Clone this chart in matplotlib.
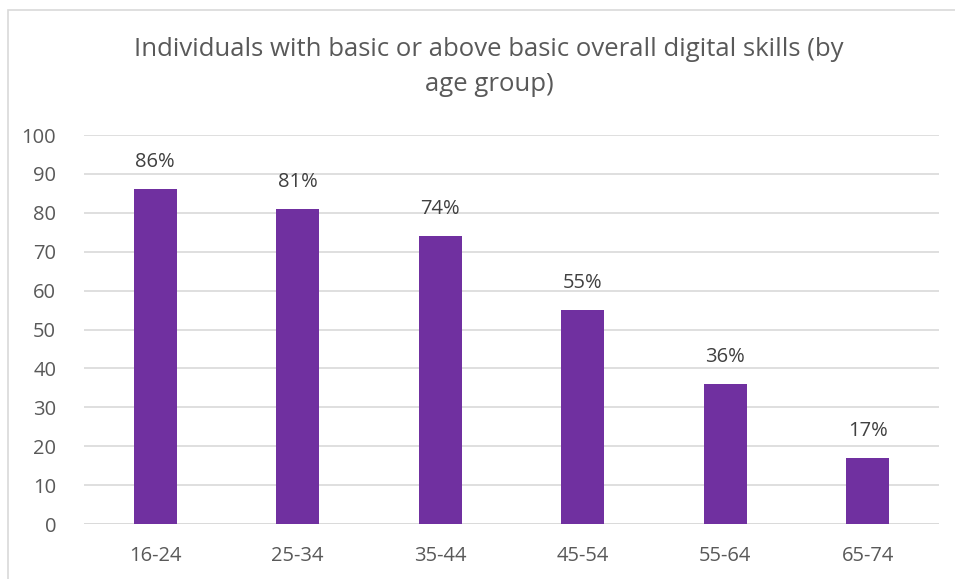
import matplotlib.pyplot as plt
from matplotlib.patches import Rectangle

# age groups and share of individuals with basic or above basic digital skills (%)
age_groups = ['16-24', '25-34', '35-44', '45-54', '55-64', '65-74']
skills_pct = [86, 81, 74, 55, 36, 17]

text_col = '#595959'
grid_col = '#D9D9D9'
bar_col = '#7030A0'

plt.rcParams['font.family'] = ['Open Sans', 'DejaVu Sans']

fig = plt.figure(figsize=(9.55, 5.79), dpi=100)
ax = fig.add_axes([84 / 955, 1 - 524 / 579, 855 / 955, 389 / 579])

# chart frame
fig.patches.append(Rectangle((8 / 955, -0.1), 1.2, 1 - 10 / 579 + 0.1,
                             transform=fig.transFigure, fill=False,
                             edgecolor='#D9D9D9', linewidth=1.2))

x = range(len(age_groups))
bars = ax.bar(x, skills_pct, width=0.3, color=bar_col, zorder=3)
for b, v in zip(bars, skills_pct):
    ax.text(b.get_x() + b.get_width() / 2, v + 7, f'{v}%',
            ha='center', va='center', fontsize=14.5, color='#404040')

ax.set_xlim(-0.5, len(age_groups) - 0.5)
ax.set_ylim(0, 100)
ax.set_yticks(range(0, 101, 10))
ax.set_xticks(list(x))
ax.set_xticklabels(age_groups)
ax.grid(axis='y', color=grid_col, linewidth=1.2, zorder=0)
ax.tick_params(axis='both', length=0, labelsize=14.5, colors=text_col)
ax.tick_params(axis='y', pad=20)
ax.tick_params(axis='x', pad=16)
for s in ax.spines.values():
    s.set_visible(False)
ax.axhline(0, color=grid_col, linewidth=1.2, zorder=2)

fig.text(489 / 955, 1 - 67 / 579,
         'Individuals with basic or above basic overall digital skills (by\nage group)',
         ha='center', va='center', fontsize=18.5, color=text_col, linespacing=1.5)

fig.savefig('out.png', dpi=100)
